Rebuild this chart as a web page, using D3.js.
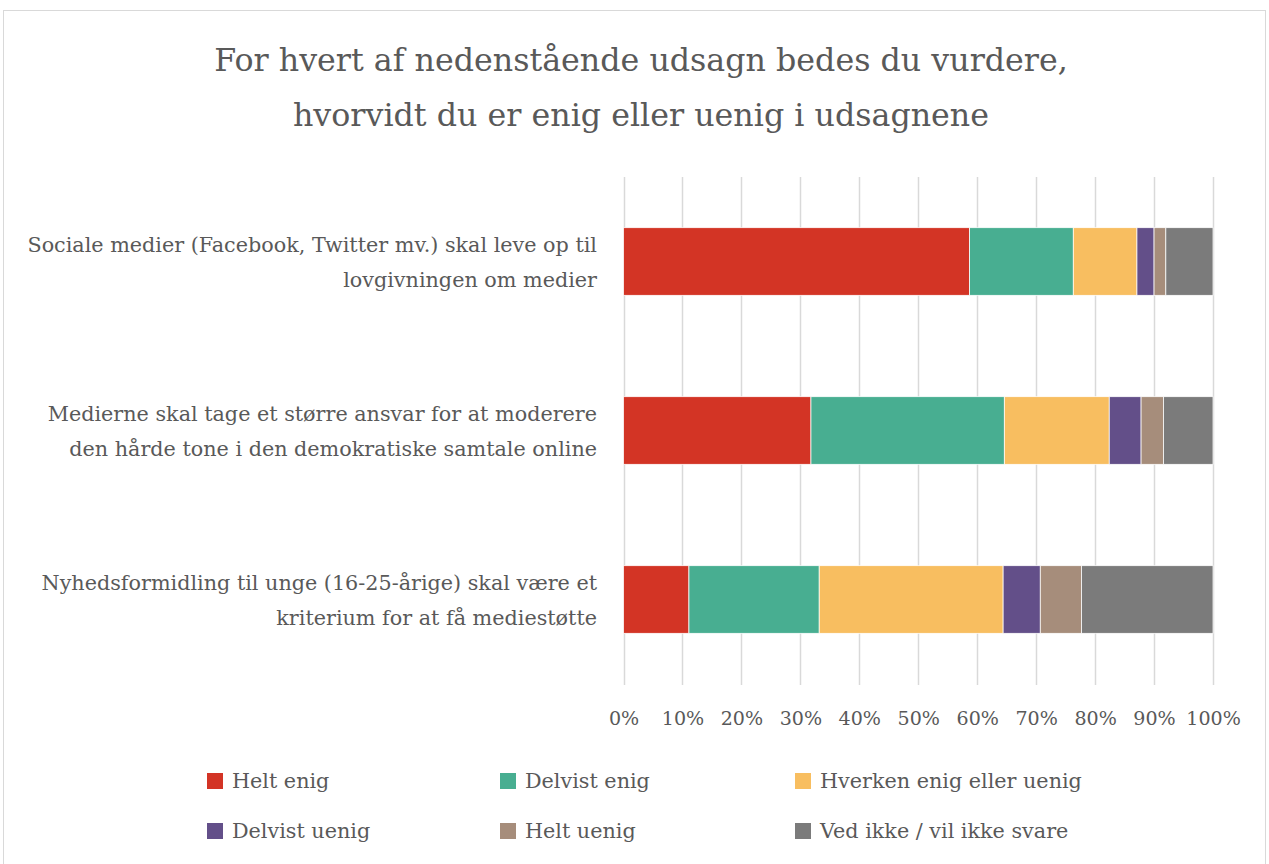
<!DOCTYPE html>
<html><head><meta charset="utf-8">
<script src="https://cdn.jsdelivr.net/npm/d3@7"></script>
<style>body{margin:0;background:#fff}svg{display:block}</style>
</head><body>
<svg id="c" width="1269" height="864"></svg>
<script>
const categories = [
  ["Sociale medier (Facebook, Twitter mv.) skal leve op til", "lovgivningen om medier"],
  ["Medierne skal tage et større ansvar for at moderere", "den hårde tone i den demokratiske samtale online"],
  ["Nyhedsformidling til unge (16-25-årige) skal være et", "kriterium for at få mediestøtte"]
];
const seriesNames = ["Helt enig","Delvist enig","Hverken enig eller uenig","Delvist uenig","Helt uenig","Ved ikke / vil ikke svare"];
const seriesColors = ["#D33425","#48AE91","#F8BE60","#634F89","#A68D7B","#7B7B7B"];
const heltEnig     = [58.7, 31.8, 11.1];
const delvistEnig  = [17.6, 32.8, 22.1];
const hverken      = [10.8, 17.8, 31.2];
const delvistUenig = [2.9, 5.4, 6.3];
const heltUenig    = [2.0, 3.8, 7.0];
const vedIkke      = [8.0, 8.4, 22.3];
const tickValues = [0,0.1,0.2,0.3,0.4,0.5,0.6,0.7,0.8,0.9,1.0];

const seriesVals = [heltEnig, delvistEnig, hverken, delvistUenig, heltUenig, vedIkke];
const rows = categories.map((c,i)=>{
  const o = {i};
  seriesNames.forEach((s,j)=>o[s]=seriesVals[j][i]);
  return o;
});
const stacked = d3.stack().keys(seriesNames).offset(d3.stackOffsetExpand)(rows);

const svg = d3.select("#c");
const font = "'DejaVu Serif', serif";
const txt = "#595959";

svg.append("rect").attr("x",3.5).attr("y",10.5).attr("width",1262).attr("height",870)
  .attr("fill","#fff").attr("stroke","#d9d9d9").attr("stroke-width",1);

// fit a text's font size so its width matches a target width
function fit(sel, size, target){
  sel.attr("font-size", size);
  const w = sel.node().getComputedTextLength();
  const s = size*target/w;
  sel.attr("font-size", s);
  return s;
}

const t1 = svg.append("text").attr("x",641).attr("y",71).attr("text-anchor","middle")
  .attr("font-family",font).attr("fill",txt).attr("font-weight",300)
  .text("For hvert af nedenstående udsagn bedes du vurdere,");
const ts = fit(t1, 33, 854);
svg.append("text").attr("x",641).attr("y",126).attr("text-anchor","middle")
  .attr("font-family",font).attr("font-size",ts).attr("fill",txt)
  .text("hvorvidt du er enig eller uenig i udsagnene");

const x = d3.scaleLinear().domain([0,1]).range([623.5,1213]);
const y = d3.scaleBand().domain(d3.range(categories.length)).range([177,684]).paddingInner(0.6).paddingOuter(0.3);

const g = svg.append("g");
g.selectAll("line.grid").data(tickValues).join("line").attr("class","grid")
  .attr("x1",d=>Math.round(x(d))+0.5).attr("x2",d=>Math.round(x(d))+0.5)
  .attr("y1",177).attr("y2",685).attr("stroke","#d9d9d9").attr("stroke-width",1.5);

g.selectAll("g.s").data(stacked).join("g").attr("class","s")
  .attr("fill",(d,i)=>seriesColors[i])
  .selectAll("rect").data(d=>d).join("rect")
  .attr("x",d=>x(d[0])).attr("width",d=>x(d[1])-x(d[0]))
  .attr("y",d=>y(d.data.i)).attr("height",y.bandwidth())
  .attr("stroke","#fff").attr("stroke-width",0.75);

// label size fitted on first label
const probe = svg.append("text").attr("font-family",font).text(categories[0][0]);
const ls = fit(probe, 21, 570);
probe.remove();

const ax = d3.axisBottom(x).tickValues(tickValues).tickFormat(d3.format(".0%")).tickSize(0).tickPadding(0);
const axg = svg.append("g").attr("transform","translate(0,712)").call(ax);
axg.select(".domain").remove();
axg.selectAll("text").attr("font-family",font).attr("font-size",ls*0.92).attr("fill",txt).attr("dy","0.7em");

categories.forEach((c,i)=>{
  const cy = y(i)+y.bandwidth()/2;
  c.forEach((line,k)=>{
    svg.append("text").attr("x",597).attr("y",cy + (k-0.5)*35 + 8)
      .attr("text-anchor","end").attr("font-family",font).attr("font-size",ls).attr("fill",txt).text(line);
  });
});

const legX = [207, 500, 795];
const legY = [781, 831];
seriesNames.forEach((s,i)=>{
  const lx = legX[i%3], ly = legY[Math.floor(i/3)];
  svg.append("rect").attr("x",lx).attr("y",ly-8).attr("width",16).attr("height",16).attr("fill",seriesColors[i]);
  svg.append("text").attr("x",lx+25).attr("y",ly+7).attr("font-family",font).attr("font-size",ls).attr("fill",txt).text(s);
});
</script>
</body></html>
